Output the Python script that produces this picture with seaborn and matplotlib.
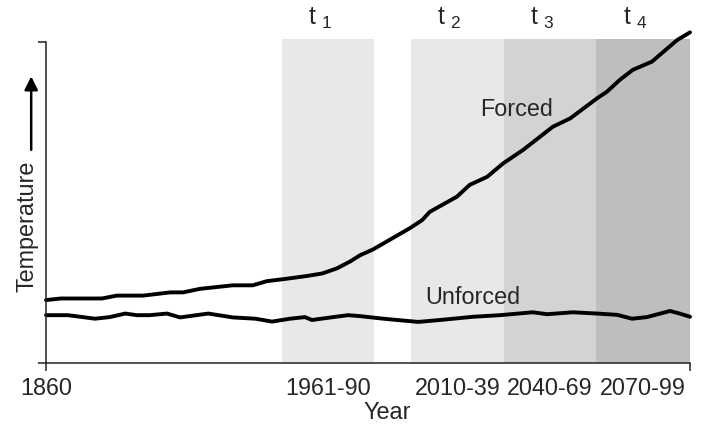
# Schematic of forced vs unforced temperature with the four averaging periods

import matplotlib
matplotlib.use("Agg")
import matplotlib.pyplot as plt
import seaborn as sns
import pandas as pd

# schematic units: x and y both run 0..100 along the axes
x_forced = [0, 2.3, 8.7, 11.0, 15.1, 19.3, 21.3, 23.9, 29.0, 32.1, 34.3, 36.8, 40.5,
            42.9, 45.2, 47.2, 48.8, 50.8, 56.5, 58.4, 59.6, 63.8, 65.8, 68.5, 71.0,
            74.1, 78.7, 81.4, 85.6, 87.1, 89.1, 91.1, 94.1, 98.0, 100]
y_forced = [19.6, 20.1, 20.1, 21.0, 21.0, 22.0, 22.0, 23.1, 24.2, 24.2, 25.5, 26.1, 27.1,
            27.9, 29.5, 31.6, 33.6, 35.4, 42.0, 44.5, 47.1, 51.8, 55.5, 58.0, 62.2,
            66.4, 73.6, 76.2, 82.5, 84.5, 88.2, 91.3, 93.9, 100.6, 103.0]

x_unforced = [0, 3.4, 7.6, 9.9, 12.3, 14.1, 16.1, 18.8, 20.8, 25.2, 29.0, 32.5, 35.1,
              37.9, 40.2, 41.3, 44.6, 46.9, 48.8, 51.9, 54.5, 57.8, 61.2, 66.3, 70.5,
              75.6, 77.8, 81.8, 85.6, 88.7, 91.0, 93.3, 96.9, 98.4, 100]
y_unforced = [14.9, 14.9, 13.8, 14.3, 15.4, 14.9, 14.9, 15.4, 14.2, 15.4, 14.2, 13.8, 12.9,
              13.8, 14.3, 13.4, 14.3, 14.9, 14.6, 13.9, 13.4, 12.8, 13.4, 14.4, 14.9,
              15.8, 15.2, 15.8, 15.4, 15.0, 13.8, 14.3, 16.2, 15.4, 14.4]

period_labels = ["1961-90", "2010-39", "2040-69", "2070-99"]
period_names = ["t $_1$", "t $_2$", "t $_3$", "t $_4$"]
period_start = [36.6, 56.7, 71.1, 85.4]
period_end = [50.9, 71.1, 85.4, 100]
shade_colors = ["#e8e8e8", "#e8e8e8", "#d3d3d3", "#bebebe"]

df = pd.concat([
    pd.DataFrame({"x": x_forced, "y": y_forced, "run": "Forced"}),
    pd.DataFrame({"x": x_unforced, "y": y_unforced, "run": "Unforced"}),
])

sns.set_style("ticks")
plt.rcParams["font.family"] = ["Liberation Sans", "DejaVu Sans"]
plt.rcParams["mathtext.fontset"] = "custom"
plt.rcParams["mathtext.rm"] = "Liberation Sans"
plt.rcParams["mathtext.it"] = "Liberation Sans"

FS = 16.8

fig = plt.figure(figsize=(7.02, 4.26), dpi=100)
ax = fig.add_axes([46 / 702, 63 / 426, 644 / 702, 321 / 426])

for s, e, c, name in zip(period_start, period_end, shade_colors, period_names):
    ax.axvspan(s, e, ymin=0, ymax=1.01, color=c, lw=0, zorder=0, clip_on=False)
    ax.text((s + e) / 2 - 1.2, 1.035, name, transform=ax.get_xaxis_transform(),
            ha="center", va="bottom", fontsize=FS + 1)

sns.lineplot(data=df, x="x", y="y", units="run", estimator=None, color="black",
             lw=2.8, ax=ax, sort=False)
for line in ax.lines:
    line.set_clip_on(False)
    line.set_solid_joinstyle("round")

ax.set_xlim(0, 100)
ax.set_ylim(0, 100)

centers = [(s + e) / 2 for s, e in zip(period_start, period_end)]
ax.set_xticks([0] + centers + [100])
ax.set_xticklabels(["1860"] + period_labels + [""], fontsize=FS)
for t in ax.xaxis.get_major_ticks()[1:5]:
    t.tick1line.set_visible(False)
ax.set_yticks([0, 100])
ax.set_yticklabels([])
ax.tick_params(axis="both", length=6, width=1.1, color="#222222", pad=4)

sns.despine(ax=ax)
for sp in ["left", "bottom"]:
    ax.spines[sp].set_linewidth(1.1)
    ax.spines[sp].set_color("#222222")

ax.set_xlabel("Year", fontsize=FS)
ax.xaxis.set_label_coords(0.53, -0.118)
ax.set_ylabel("")
ax.text(-0.029, 0.425, "Temperature", rotation=90, ha="center", va="center",
        transform=ax.transAxes, fontsize=FS)
ax.annotate("", xy=(-0.023, 0.893), xytext=(-0.023, 0.664),
            xycoords="axes fraction", textcoords="axes fraction",
            arrowprops=dict(arrowstyle="-|>", lw=1.8, color="black", mutation_scale=20,
                            shrinkA=0, shrinkB=0))

ax.text(73.0, 78.9, "Forced", ha="center", va="center", fontsize=FS)
ax.text(66.3, 20.5, "Unforced", ha="center", va="center", fontsize=FS)

fig.savefig("out.png", dpi=100)
